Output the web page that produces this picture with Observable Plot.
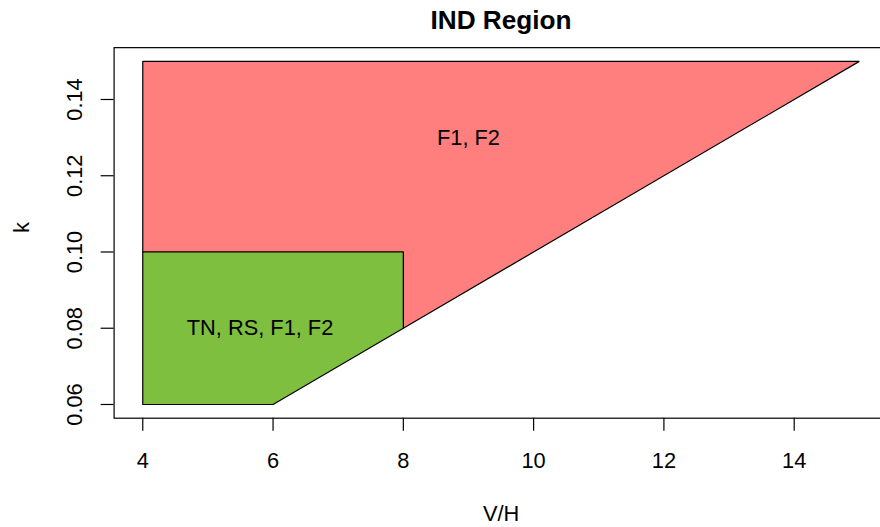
<!DOCTYPE html>
<html>
<head>
<meta charset="utf-8">
<script src="https://cdn.jsdelivr.net/npm/d3@7"></script>
<script src="https://cdn.jsdelivr.net/npm/@observablehq/plot@0.6"></script>
<style>
  html, body { margin: 0; padding: 0; background: white; overflow: hidden; }
</style>
</head>
<body>
<div id="chart"></div>
<script>
// Region polygons (V/H, k)
const redVH = [4, 4, 15, 8, 8, 4];
const redK  = [0.10, 0.15, 0.15, 0.08, 0.10, 0.10];
const greenVH = [4, 6, 8, 8, 4, 4];
const greenK  = [0.06, 0.06, 0.08, 0.10, 0.10, 0.06];

// Region labels
const labelText = ["F1, F2", "TN, RS, F1, F2"];
const labelVH = [9, 5.8];
const labelK = [0.13, 0.08];

// Ticks
const xTicks = [4, 6, 8, 10, 12, 14];
const yTicks = [0.06, 0.08, 0.10, 0.12, 0.14];

const red = redVH.map((x, i) => ({x, y: redK[i]}));
const green = greenVH.map((x, i) => ({x, y: greenK[i]}));
const labels = labelText.map((t, i) => ({t, x: labelVH[i], y: labelK[i]}));

const FS = 21.8;
const font = "'Liberation Sans', Arial, Helvetica, sans-serif";

const chart = Plot.plot({
  width: 880,
  height: 527,
  marginLeft: 113.6,
  marginRight: -7.5,
  marginTop: 47.15,
  marginBottom: 109.3,
  x: {domain: [3.56, 15.44]},
  y: {domain: [0.0564, 0.1536]},
  style: {fontFamily: font, fontSize: FS + "px", background: "white", color: "black"},
  marks: [
    Plot.line(red, {x: "x", y: "y", fill: "#ff7f7f", stroke: "black", strokeWidth: 1.2, strokeLinejoin: "miter"}),
    Plot.line(green, {x: "x", y: "y", fill: "#7fbf3f", stroke: "black", strokeWidth: 1.2, strokeLinejoin: "miter"}),
    Plot.text(labels, {x: "x", y: "y", text: "t", fontSize: FS, fill: "black", lineAnchor: "middle"}),
    Plot.frame({stroke: "black", strokeWidth: 1.2}),
    Plot.axisX({ticks: xTicks, tickSize: 13, tickPadding: 21, tickFormat: d => String(d), label: null, fontSize: FS, stroke: "black", strokeWidth: 1.2}),
    Plot.axisY({ticks: yTicks, tickSize: 13, tickFormat: () => "", label: null, stroke: "black", strokeWidth: 1.2}),
    Plot.text(yTicks, {y: d => d, text: d => d.toFixed(2), frameAnchor: "left", dx: -32, rotate: -90, lineAnchor: "bottom", textAnchor: "middle", fontSize: FS}),
    Plot.text(["V/H"], {text: d => d, frameAnchor: "bottom", dy: 102.3, lineAnchor: "bottom", fontSize: FS}),
    Plot.text(["k"], {text: d => d, frameAnchor: "left", dx: -85.3, rotate: -90, lineAnchor: "bottom", fontSize: FS}),
    Plot.text(["IND Region"], {text: d => d, frameAnchor: "top", dy: -19.15, lineAnchor: "bottom", fontSize: 26.2, fontWeight: "bold"})
  ]
});
document.getElementById("chart").appendChild(chart);
</script>
</body>
</html>
